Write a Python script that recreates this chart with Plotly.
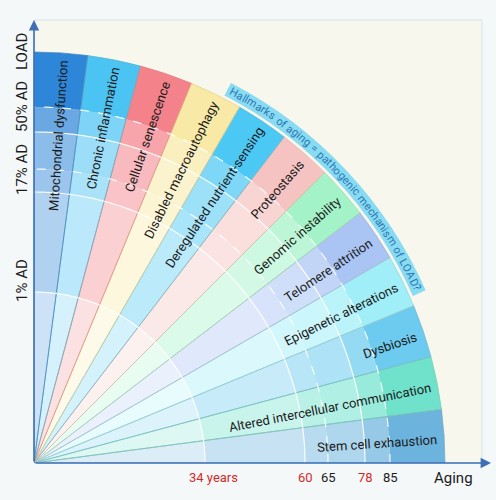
import math
import numpy as np
import plotly.graph_objects as go

# hallmarks, listed clockwise-from-bottom (theta = 0 is the Aging axis)
hallmarks = ["Stem cell exhaustion", "Altered intercellular communication", "Dysbiosis",
             "Epigenetic alterations", "Telomere attrition", "Genomic instability",
             "Proteostasis", "Deregulated nutrient-sensing", "Disabled macroautophagy",
             "Cellular senescence", "Chronic inflammation", "Mitochondrial dysfunction"]
hallmark_colors = ["#6cb4de", "#70e2cc", "#6ccbef", "#a0eef8", "#aac4f4", "#a4f2c8",
                   "#f5c4c2", "#4cc8f4", "#f8eaa6", "#f4828a", "#4bc3f3", "#2e86d8"]

# age rings on the horizontal axis and where they sit on the radial scale
ages = [34, 60, 65, 78, 85]
age_labels = ["34 years", "60", "65", "78", "85"]
age_radius = [171, 271, 294, 331, 356]
age_red = [True, True, False, True, False]
ring_dashed = [False, False, True, False, True]
outer_radius = 411

# AD labels on the vertical axis
ad_labels = ["1% AD", "17% AD", "50% AD", "LOAD"]
ad_radius = [182, 293, 356, 411]

title_text = "Hallmarks of aging = pathogenic mechanism of LOAD?"

W, H = 496, 500
ox, oy = 34, 463        # origin of the quarter disc, px
rmax = 430

# Roboto advance widths (em) for text layout
CW = {' ': .248, 'a': .531, 'b': .548, 'c': .512, 'd': .550, 'e': .517, 'f': .338, 'g': .548,
      'h': .538, 'i': .229, 'j': .234, 'k': .495, 'l': .229, 'm': .856, 'n': .539, 'o': .557,
      'p': .548, 'q': .553, 'r': .331, 's': .505, 't': .319, 'u': .537, 'v': .472, 'w': .730,
      'x': .484, 'y': .462, 'z': .484, '-': .270, '=': .537, '?': .462, 'H': .695, 'L': .525,
      'O': .672, 'A': .652, 'D': .641, 'M': .872, 'C': .652, 'G': .681, 'P': .631, 'T': .612,
      'E': .568, 'S': .594}


def text_w(s, size):
    return sum(CW.get(c, .55) for c in s) * size


def mix(hexc, t, other=(255, 255, 255)):
    c = [int(hexc[i:i + 2], 16) for i in (1, 3, 5)]
    v = [round(c[k] * t + other[k] * (1 - t)) for k in range(3)]
    return "rgb(%d,%d,%d)" % tuple(v)


def to_paper(r, ang, side=0.0):
    a = math.radians(ang)
    px = ox + r * math.cos(a) + side * math.sin(a)
    py = oy - r * math.sin(a) + side * math.cos(a)
    return px / W, 1 - py / H


n = len(hallmarks)
step = 90 / n
thetas = [step * (i + 0.5) for i in range(n)]

fig = go.Figure()

# radial bands, lighter toward the centre
edges = [0] + age_radius + [outer_radius]
strength = [0.24, 0.38, 0.48, 0.55, 0.72, 1.0]
for k in range(len(edges) - 1):
    fig.add_trace(go.Barpolar(
        r=[edges[k + 1] - edges[k]] * n, base=[edges[k]] * n, theta=thetas,
        width=[step] * n, marker=dict(color=[mix(c, strength[k]) for c in hallmark_colors],
                                      line=dict(width=0)),
        hoverinfo="skip", showlegend=False))

# sector outlines
fig.add_trace(go.Barpolar(
    r=[outer_radius] * n, theta=thetas, width=[step] * n,
    marker=dict(color="rgba(0,0,0,0)",
                line=dict(color=[mix(c, 0.8, (150, 110, 60)) for c in hallmark_colors], width=0.7)),
    hoverinfo="skip", showlegend=False))

# age rings
arc = np.linspace(0, 90, 181)
for rr, dashed in zip(age_radius, ring_dashed):
    fig.add_trace(go.Scatterpolar(
        r=[rr] * len(arc), theta=arc, mode="lines",
        line=dict(color="rgba(255,255,255,0.9)", width=1.2, dash="dash" if dashed else "solid"),
        hoverinfo="skip", showlegend=False))

# band carrying the curved title
a0, a1 = 62.6, 23.8
fig.add_trace(go.Barpolar(
    r=[14], base=[414], theta=[(a0 + a1) / 2], width=[a0 - a1],
    marker=dict(color="#88dbf1", line=dict(width=0)), hoverinfo="skip", showlegend=False))

fig.update_layout(
    width=W, height=H, margin=dict(l=0, r=0, t=0, b=0),
    paper_bgcolor="#f4f8f9", plot_bgcolor="#f4f8f9",
    font=dict(family="Roboto", color="#1b1b1b"),
    polar=dict(
        domain=dict(x=[ox / W, (ox + rmax) / W], y=[1 - oy / H, 1 - (oy - rmax) / H]),
        sector=[0, 90], bgcolor="rgba(0,0,0,0)",
        radialaxis=dict(range=[0, rmax], visible=False),
        angularaxis=dict(visible=False, direction="counterclockwise", rotation=0)),
    shapes=[dict(type="rect", xref="paper", yref="paper", layer="below",
                 x0=ox / W, x1=482 / W, y0=1 - oy / H, y1=1 - 20 / H,
                 fillcolor="#f8f7ed", line=dict(color="#d3e5ef", width=1))],
)

C = dict(xref="paper", yref="paper", xanchor="center", yanchor="middle")
ann = []
# hallmark labels, ending just inside the outer rim
for name, th in zip(hallmarks, thetas):
    rc = 402 - text_w(name, 13) / 2
    x, y = to_paper(rc, th, 3)
    ann.append(dict(C, x=x, y=y, text=name, showarrow=False,
                    textangle=-th, font=dict(size=13, color="#1b1b1b")))

# curved title, one glyph at a time
ws = [CW.get(c, .55) * 11 for c in title_text]
arc_len = math.radians(a0 - a1) * 421 - 6
scale = arc_len / sum(ws)
pos = 3
for c, w in zip(title_text, ws):
    mid = pos + w * scale / 2
    ang = a0 - math.degrees(mid / 421)
    pos += w * scale
    if c == " ":
        continue
    x, y = to_paper(421, ang)
    ann.append(dict(C, x=x, y=y, text=c, showarrow=False,
                    textangle=90 - ang, font=dict(size=11, color="#2a78b8")))

# axis arrows
ann.append(dict(x=ox / W, y=1 - 20 / H, xref="paper", yref="paper", ax=0, ay=oy - 20,
                text="", showarrow=True, arrowhead=2, arrowsize=1.3, arrowwidth=1.6,
                arrowcolor="#3e6fb7"))
ann.append(dict(x=491 / W, y=1 - oy / H, xref="paper", yref="paper", ax=-(491 - ox), ay=0,
                text="", showarrow=True, arrowhead=2, arrowsize=1.3, arrowwidth=1.6,
                arrowcolor="#3e6fb7"))

# age tick labels
for lab, rr, red in zip(age_labels, age_radius, age_red):
    ann.append(dict(C, x=(ox + rr) / W, y=1 - 477 / H, text=lab,
                    showarrow=False, xshift=8 if lab.endswith("years") else 0,
                    font=dict(size=13, color="#d42a2a" if red else "#1b1b1b")))
ann.append(dict(C, x=453 / W, y=1 - 478 / H, text="Aging",
                showarrow=False, font=dict(size=15, color="#1b1b1b")))

# AD labels
for lab, rr in zip(ad_labels, ad_radius):
    ann.append(dict(C, x=22 / W, y=1 - (oy - rr) / H, text=lab,
                    showarrow=False, textangle=-90, font=dict(size=15, color="#1b1b1b")))

fig.update_layout(annotations=ann)
fig.write_html("out.html", config={"displayModeBar": False},
               post_script="document.body.style.margin='0';")
